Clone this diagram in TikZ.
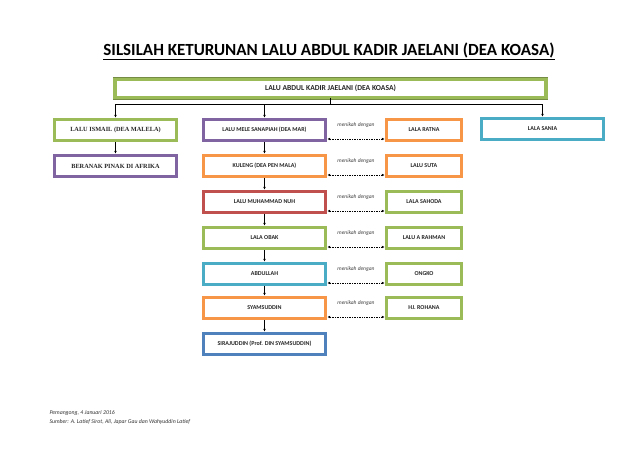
\documentclass[tikz,border=0pt]{standalone}
\usepackage{fontspec}
\setmainfont{Carlito}
\newfontfamily\serifb{Liberation Serif}
\usetikzlibrary{arrows.meta}
\definecolor{cgreen}{HTML}{9BBB59}
\definecolor{cpurple}{HTML}{8064A2}
\definecolor{corange}{HTML}{F79646}
\definecolor{cred}{HTML}{C0504D}
\definecolor{caqua}{HTML}{4BACC6}
\definecolor{cblue}{HTML}{4F81BD}
\begin{document}
\begin{tikzpicture}[x=1pt,y=-1pt,
  fam/.style={draw=#1!75!black, double=#1, double distance=2.6pt, line width=0.3pt, fill=white,
    minimum height=21pt, minimum width=122pt, inner sep=1pt, font=\bfseries\fontsize{6}{7}\selectfont, text=black!85},
  spouse/.style={fam=#1, minimum width=75pt},
  serifbox/.style={font=\serifb\bfseries\fontsize{6.3}{7.5}\selectfont},
  down/.style={-{Latex[length=3pt,width=2.6pt]}, line width=0.6pt, shorten >=1.5pt, shorten <=1.5pt},
  wed/.style={{Latex[length=3pt,width=2.6pt]}-{Latex[length=3pt,width=2.6pt]}, densely dotted, line width=0.7pt, shorten >=1.5pt, shorten <=1.5pt},
  note/.style={font=\fontsize{5.5}{6.5}\selectfont\itshape, text=black!75},
  foot/.style={font=\fontsize{5.8}{7}\selectfont\itshape, text=black!80}]
\fill[white] (0,0) rectangle (640,454);
\useasboundingbox (0,0) rectangle (640,454);

\node[font=\bfseries\fontsize{17}{19}\selectfont] (title) at (329,51)
  {\underline{SILSILAH KETURUNAN LALU ABDUL KADIR JAELANI (DEA KOASA)}};

\node[fam=cgreen, double distance=3.2pt, minimum width=431pt, minimum height=18.5pt, font=\bfseries\fontsize{7.6}{9}\selectfont] (top) at (330.5,88.5) {LALU ABDUL KADIR JAELANI (DEA KOASA)};

\node[fam=cgreen, serifbox] (ismail) at (115.5,130) {LALU ISMAIL (DEA MALELA)};
\node[fam=cpurple, serifbox] (beranak) at (115.5,166) {BERANAK PINAK DI AFRIKA};

\node[fam=cpurple] (mele) at (264.5,130) {LALU MELE SANAPIAH (DEA MAR)};
\node[fam=corange] (kuleng) at (264.5,166) {KULENG (DEA PEN MALA)};
\node[fam=cred] (nuh) at (264.5,202) {LALU MUHAMMAD NUH};
\node[fam=cgreen] (obak) at (264.5,238) {LALA OBAK};
\node[fam=caqua] (abdullah) at (264.5,274) {ABDULLAH};
\node[fam=corange] (syam) at (264.5,308) {SYAMSUDDIN};
\node[fam=cblue] (sira) at (264.5,344) {SIRAJUDDIN (Prof. DIN SYAMSUDDIN)};

\node[spouse=corange] (ratna) at (424,130) {LALA RATNA};
\node[spouse=corange] (suta) at (424,166) {LALU SUTA};
\node[spouse=cgreen] (sahoda) at (424,202) {LALA SAHODA};
\node[spouse=cgreen] (rahman) at (424,238) {LALU A RAHMAN};
\node[spouse=cgreen] (ongko) at (424,274) {ONGKO};
\node[spouse=cgreen] (rohana) at (424,308) {HJ. ROHANA};

\node[fam=caqua] (sania) at (542.5,129) {LALA SANIA};

\coordinate (j) at (330.5,104.5);
\draw[line width=0.6pt] (top.south) -- (j);
\draw[down, shorten <=0pt] (j) -| (ismail.north);
\draw[down, shorten <=0pt] (j) -| (sania.north);
\draw[down, shorten <=0pt] (mele.north |- j) -- (mele.north);

\draw[down] (ismail) -- (beranak);
\draw[down] (mele) -- (kuleng);
\draw[down] (kuleng) -- (nuh);
\draw[down] (nuh) -- (obak);
\draw[down] (obak) -- (abdullah);
\draw[down] (abdullah) -- (syam);
\draw[down] (syam) -- (sira);

\foreach \a/\b in {mele/ratna, kuleng/suta, nuh/sahoda, obak/rahman, abdullah/ongko, syam/rohana}{
  \draw[wed] ([yshift=-9pt]\a.east) -- node[note, midway, yshift=14pt] {menikah dengan} ([yshift=-9pt]\b.west);
}

\node[foot, anchor=west] (f1) at (46,413) {Pemangong, 4 Januari 2016};
\node[foot, anchor=west] (f2) at (46,422) {Sumber: A. Latief Sirot, Ali, Japar Gau dan Wahyuddin Latief};
\end{tikzpicture}
\end{document}
